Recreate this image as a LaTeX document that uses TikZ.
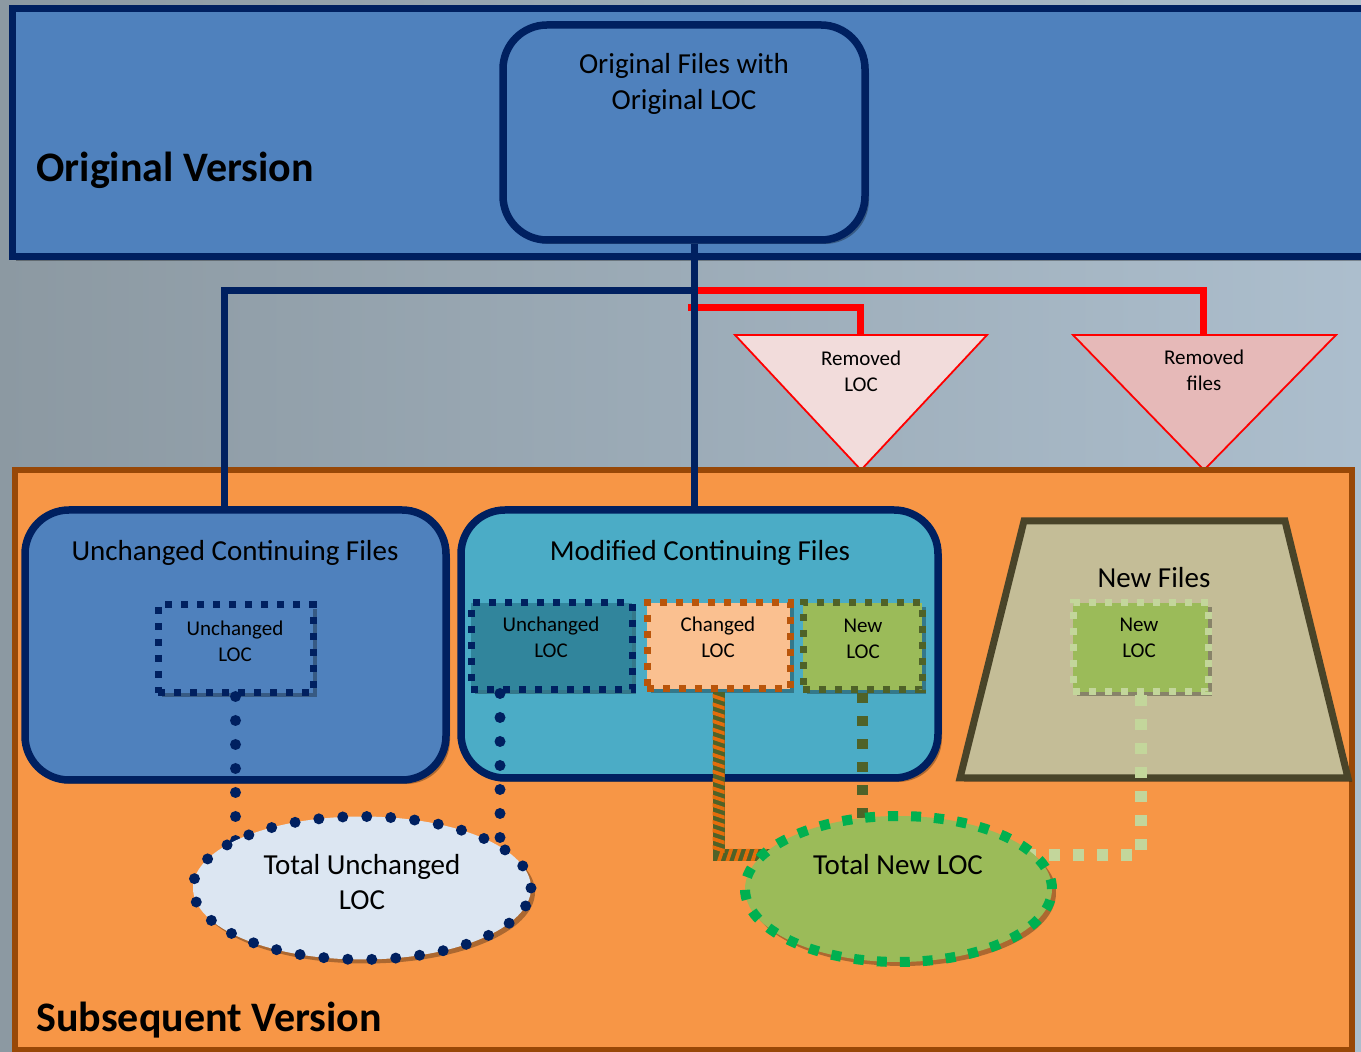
\documentclass[tikz,border=0pt]{standalone}
\usepackage{fontspec}
\setmainfont{Carlito}
\usetikzlibrary{shapes.geometric,shadows,calc,decorations.markings}
\definecolor{navy}{RGB}{0,32,96}
\definecolor{blueA}{RGB}{79,129,189}
\definecolor{tealA}{RGB}{75,172,198}
\definecolor{tealB}{RGB}{49,133,156}
\definecolor{orangeA}{RGB}{247,150,70}
\definecolor{brownB}{RGB}{152,72,7}
\definecolor{peach}{RGB}{250,192,144}
\definecolor{chgdot}{RGB}{185,85,10}
\definecolor{oliveA}{RGB}{155,187,89}
\definecolor{oliveD}{RGB}{79,98,40}
\definecolor{lgreen}{RGB}{195,214,155}
\definecolor{trapfill}{RGB}{196,189,151}
\definecolor{trapline}{RGB}{73,68,41}
\definecolor{paleblue}{RGB}{220,230,242}
\definecolor{greenB}{RGB}{0,176,80}
\definecolor{pinkA}{RGB}{242,220,219}
\definecolor{pinkB}{RGB}{230,185,184}
\definecolor{stripeO}{RGB}{228,108,10}
\definecolor{bgL}{RGB}{140,153,162}
\definecolor{bgR}{RGB}{172,190,205}
\begin{document}
\begin{tikzpicture}[x=0.5pt,y=-0.5pt,
  shad/.style={drop shadow={shadow xshift=2pt,shadow yshift=-2pt,opacity=0.3,fill=black}},
  bigtxt/.style={font=\fontsize{14.5}{18}\selectfont,align=center,inner sep=0pt},
  smalltxt/.style={font=\fontsize{10.5}{13}\selectfont,align=center,inner sep=0pt},
  heading/.style={font=\bfseries\fontsize{21}{25}\selectfont,inner sep=0pt},
  panel/.style={rectangle,inner sep=0pt},
  fbox/.style={rectangle,rounded corners=22pt,draw=navy,line width=3.75pt,inner sep=0pt,shad},
  sqdots/.style={rectangle,inner sep=0pt,line width=3.5pt,dash pattern=on 3.5pt off 4.5pt,shad},
  navyline/.style={draw=navy,line width=3.5pt},
  redline/.style={draw=red,line width=3.5pt},
  tri/.style={draw=red,line width=0.9pt},
  rounddots/.style={draw=navy,line width=5.5pt,line cap=round,dash pattern=on 0pt off 12pt},
  olivedash/.style={draw=oliveD,line width=5.5pt,dash pattern=on 5pt off 6.5pt},
  lgdash/.style={draw=lgreen,line width=6pt,dash pattern=on 5.5pt off 6.5pt},
  striped/.style={draw=oliveD,line width=6pt,postaction={decorate},
    decoration={markings,mark=between positions 0.01 and 0.99 step 4.2pt with
      {\fill[stripeO] (-1pt,-3pt) -- (0.9pt,-3pt) -- (2.9pt,3pt) -- (1pt,3pt) -- cycle;}}},
]
\useasboundingbox (0,0) rectangle (1361,1052);
\clip (0,0) rectangle (1361,1052);
\fill[left color=bgL,right color=bgR] (0,0) rectangle (1361,1052);

% Original version
\node[panel,draw=navy,line width=3.5pt,fill=blueA,minimum width=680pt,minimum height=124pt,shad] (ov) at (692,133) {};
\node[heading,anchor=base west] (ovt) at (36,182) {Original Version};
\node[fbox,fill=blueA,minimum width=181pt,minimum height=107.5pt] (of) at (684,132.5) {};
\node[bigtxt] (oft) at (684,84) {Original Files with\\Original LOC};

% red connectors and triangles
\coordinate (j) at (694,291);
\coordinate (ub) at (224,0);
\coordinate (rs) at (688,307.5);
\coordinate (rlt) at (860,335);
\coordinate (rft) at (1203,335);
\draw[redline] (rs) -| (rlt);
\draw[redline] (j) -| (rft);
\draw[tri,fill=pinkA] (735,335) -- (987,335) -- (861,470) -- cycle;
\draw[tri,fill=pinkB] (1073,335) -- (1336,335) -- (1204,470) -- cycle;
\node[smalltxt] (rlx) at (861,371) {Removed\\LOC};
\node[smalltxt] (rfx) at (1204,370) {Removed\\files};

% Subsequent version
\node[panel,draw=brownB,line width=3pt,fill=orangeA,minimum width=668.5pt,minimum height=290pt] (sv) at (683.5,760) {};
\node[heading,anchor=base west] (svt) at (36,1031) {Subsequent Version};

\node[fbox,fill=blueA,minimum width=210.5pt,minimum height=135pt] (uc) at (235.5,645) {};
\node[fbox,fill=tealA,minimum width=238.5pt,minimum height=134pt] (mc) at (699.5,644) {};
\node[bigtxt] (uct) at (235,553) {Unchanged Continuing Files};
\node[bigtxt] (mct) at (700,553) {Modified Continuing Files};

\draw[navyline] (of.south -| j) -- (mc.north -| j);
\draw[navyline] (j) -| (uc.north -| ub);

% New files trapezoid
\draw[draw=trapline,line width=3.5pt,fill=trapfill,shad] (1024,521) -- (1285,521) -- (1348,778) -- (960,778) -- cycle;
\node[bigtxt] (nft) at (1154,578) {New Files};

% small boxes
\node[sqdots,draw=navy,fill=blueA,minimum width=77.5pt,minimum height=44pt] (ulA) at (235.5,649) {};
\node[sqdots,draw=navy,fill=tealB,minimum width=80.5pt,minimum height=43.5pt] (ulB) at (551.5,646.5) {};
\node[sqdots,draw=chgdot,fill=peach,minimum width=71.5pt,minimum height=43pt] (chg) at (718.5,646) {};
\node[sqdots,draw=oliveD,fill=oliveA,minimum width=59.5pt,minimum height=43.5pt] (nlA) at (862.5,646.5) {};
\node[sqdots,draw=lgreen,fill=oliveA,minimum width=67.5pt,minimum height=44.5pt] (nlB) at (1140.5,647.5) {};
\node[smalltxt] (ulAt) at (235,641) {Unchanged\\LOC};
\node[smalltxt] (ulBt) at (551,637) {Unchanged\\LOC};
\node[smalltxt] (chgt) at (718,637) {Changed\\LOC};
\node[smalltxt] (nlAt) at (863,639) {New\\LOC};
\node[smalltxt] (nlBt) at (1139,638) {New\\LOC};

% connectors to totals
\coordinate (tuc) at (362,888);
\coordinate (tnc) at (898.5,889);
\coordinate (ce) at (717,855);
\coordinate (ulBd) at (500,0);
\draw[rounddots] (ulA.south) -- (ulA.south |- tuc);
\draw[rounddots] (ulB.south -| ulBd) -- (ulBd |- tuc);
\draw[striped] (chg.south) -- (chg.south |- ce) -- (ce -| tnc);
\draw[olivedash] (nlA.south) -- (nlA.south |- tnc);
\draw[lgdash] (nlB.south) -- (nlB.south |- ce) -- (ce -| tnc);

% totals
\node[ellipse,draw=navy,fill=paleblue,line width=5.5pt,line cap=round,dash pattern=on 0pt off 12pt,minimum width=169pt,minimum height=71.5pt,inner sep=0pt,shad] (tu) at (tuc) {};
\node[ellipse,draw=greenB,fill=oliveA,line width=5pt,dash pattern=on 5pt off 6.5pt,minimum width=153.5pt,minimum height=73pt,inner sep=0pt,shad] (tn) at (tnc) {};
\node[bigtxt,font=\fontsize{14.5}{17.5}\selectfont] (tut) at (362,882.5) {Total Unchanged\\LOC};
\node[bigtxt] (tnt) at (898,865) {Total New LOC};
\end{tikzpicture}
\end{document}
